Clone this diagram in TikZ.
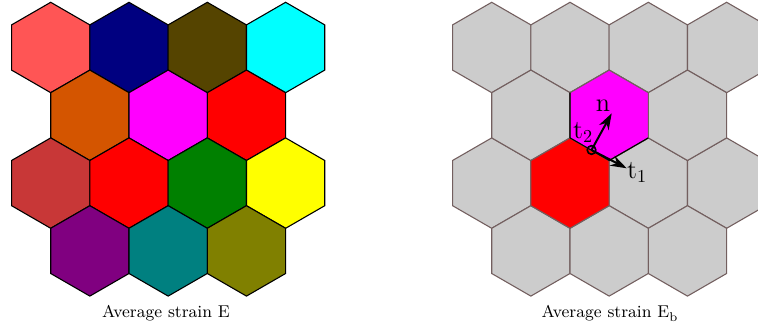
\documentclass[tikz,border=0pt]{standalone}
\usetikzlibrary{arrows.meta}
\definecolor{lightred}{HTML}{FF5555}
\definecolor{navycell}{HTML}{000080}
\definecolor{browncell}{HTML}{554400}
\definecolor{cyancell}{HTML}{00FFFF}
\definecolor{orangecell}{HTML}{D45500}
\definecolor{magcell}{HTML}{FF00FF}
\definecolor{redcell}{HTML}{FF0000}
\definecolor{rustcell}{HTML}{C83737}
\definecolor{greencell}{HTML}{008000}
\definecolor{yellowcell}{HTML}{FFFF00}
\definecolor{purplecell}{HTML}{800080}
\definecolor{tealcell}{HTML}{008080}
\definecolor{olivecell}{HTML}{808000}
\definecolor{graycell}{HTML}{CCCCCC}
\definecolor{grayedge}{HTML}{735F5F}
\begin{document}
\begin{tikzpicture}[x=0.55pt, y=-0.55pt,
  cell/.style={line width=0.6pt, draw=black},
  bgcell/.style={line width=0.6pt, draw=grayedge, fill=graycell},
  vec/.style={line width=1.1pt, -{Stealth[length=9pt,width=6pt]}},
  lbl/.style={font=\Large, inner sep=0pt},
  caption/.style={anchor=base, font=\fontsize{9.4}{11}\selectfont}]
  \clip (0,0) rectangle (758,329);
  % Grains with their own strain
  \foreach \x/\y/\c in {50.7/47.5/lightred, 129.0/47.5/navycell, 207.3/47.5/browncell, 285.6/47.5/cyancell,
    89.85/115.3/orangecell, 168.15/115.3/magcell, 246.45/115.3/redcell,
    50.7/183.1/rustcell, 129.0/183.1/redcell, 207.3/183.1/greencell, 285.6/183.1/yellowcell,
    89.85/250.9/purplecell, 168.15/250.9/tealcell, 246.45/250.9/olivecell} {
    \draw[cell, fill=\c] (\x,\y) +(90:45.2) -- +(30:45.2) -- +(-30:45.2) -- +(-90:45.2) -- +(-150:45.2) -- +(150:45.2) -- cycle;
  }
  \node[caption] (capleft) at (166,318) {Average strain E};
  % Grains with the boundary strain
  \foreach \x in {491.7, 570.0, 648.3, 726.6} {
    \foreach \y in {47.5, 183.1} {
      \draw[bgcell] (\x,\y) +(90:45.2) -- +(30:45.2) -- +(-30:45.2) -- +(-90:45.2) -- +(-150:45.2) -- +(150:45.2) -- cycle;
    }
  }
  \foreach \x in {530.85, 609.15, 687.45} {
    \foreach \y in {115.3, 250.9} {
      \draw[bgcell] (\x,\y) +(90:45.2) -- +(30:45.2) -- +(-30:45.2) -- +(-90:45.2) -- +(-150:45.2) -- +(150:45.2) -- cycle;
    }
  }
  % Two grains sharing the boundary
  \coordinate (redgrain) at (570.0,183.1);
  \coordinate (maggrain) at (609.15,115.3);
  \draw[bgcell, fill=redcell] (redgrain) +(90:45.2) -- +(30:45.2) -- +(-30:45.2) -- +(-90:45.2) -- +(-150:45.2) -- +(150:45.2) -- cycle;
  \draw[bgcell, fill=magcell] (maggrain) +(90:45.2) -- +(30:45.2) -- +(-30:45.2) -- +(-90:45.2) -- +(-150:45.2) -- +(150:45.2) -- cycle;
  \draw[line width=0.6pt] (maggrain) +(210:45.2) -- +(150:45.2) -- +(90:45.2) -- +(30:45.2);
  % Local frame on the boundary
  \coordinate (pivot) at (591.5,150);
  \coordinate (ntip) at (611.7,113.3);
  \coordinate (ttip) at (626.7,168.3);
  \draw[vec] (pivot) -- (ntip);
  \draw[vec] (pivot) -- (ttip);
  \draw[line width=0.9pt] (pivot) circle (4.3);
  \node[lbl] (nlab) at (603,106) {n};
  \node[lbl] (t2lab) at (583,132) {t$_2$};
  \node[lbl] (t1lab) at (637,172) {t$_1$};
  \node[caption] (capright) at (610,318) {Average strain E$_\mathrm{b}$};
\end{tikzpicture}
\end{document}
